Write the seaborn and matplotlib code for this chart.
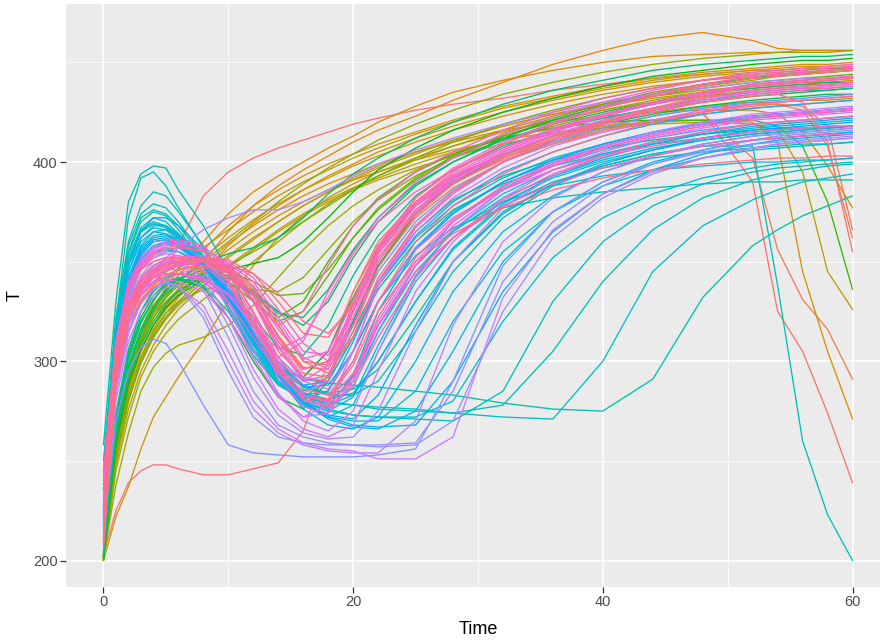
import numpy as np
import pandas as pd
import matplotlib
matplotlib.use("Agg")
import matplotlib.pyplot as plt
import seaborn as sns

# Sampling times shared by every run
TIME = [0, 1, 2, 3, 4, 5, 6, 8, 10, 12, 14, 16, 18, 20, 22, 25, 28, 32, 36, 40, 44, 48, 52, 54, 56, 58, 60]

# Temperature trajectories, one list per run, grouped by colour band
red_runs = [
    [203, 225, 239, 245, 248, 248, 246, 243, 243, 246, 249, 265, 300, 335, 358, 378, 390, 401, 409, 415, 420, 424, 427, 428, 429, 430, 431],
    [205, 285, 315, 330, 338, 346, 358, 383, 395, 402, 407, 411, 415, 419, 422, 426, 429, 432, 436, 439, 442, 444, 446, 446, 447, 447, 448],
    [210, 300, 322, 333, 340, 345, 348, 350, 345, 330, 305, 292, 305, 335, 360, 380, 393, 404, 411, 417, 421, 425, 390, 325, 305, 274, 239],
    [209, 292, 320, 333, 340, 345, 348, 350, 346, 333, 313, 297, 296, 318, 348, 372, 387, 400, 409, 416, 421, 425, 428, 429, 428, 418, 366],
    [212, 298, 324, 336, 342, 346, 349, 351, 347, 334, 312, 296, 300, 326, 354, 376, 390, 402, 410, 416, 420, 424, 402, 356, 331, 316, 291],
    [208, 290, 318, 331, 338, 343, 346, 349, 347, 337, 318, 300, 298, 320, 350, 374, 389, 402, 411, 418, 423, 427, 429, 429, 426, 408, 362],
]

gold_runs = [
    [200, 255, 285, 305, 318, 328, 336, 350, 365, 378, 388, 396, 403, 410, 416, 423, 431, 440, 449, 456, 462, 465, 461, 457, 456, 456, 456],
    [202, 256, 286, 305, 318, 328, 336, 348, 359, 368, 376, 383, 389, 394, 399, 405, 410, 416, 420, 423, 425, 426, 426, 424, 415, 398, 377],
    [201, 262, 292, 312, 326, 337, 346, 360, 374, 385, 393, 400, 407, 413, 420, 428, 435, 441, 446, 450, 453, 454, 455, 455, 456, 456, 456],
    [201, 262, 293, 312, 325, 335, 343, 356, 368, 378, 386, 393, 399, 404, 409, 415, 421, 428, 433, 438, 442, 445, 447, 448, 449, 449, 450],
    [200, 250, 280, 300, 314, 324, 332, 345, 358, 369, 378, 386, 392, 398, 403, 410, 416, 423, 429, 434, 438, 441, 443, 444, 445, 445, 446],
    [202, 258, 288, 306, 318, 327, 334, 346, 356, 365, 373, 380, 386, 391, 395, 401, 406, 411, 415, 418, 420, 421, 420, 410, 345, 305, 271],
    [201, 260, 290, 309, 322, 332, 340, 352, 362, 371, 379, 386, 393, 399, 405, 412, 418, 425, 431, 436, 440, 443, 445, 446, 447, 447, 448],
    [200, 222, 237, 256, 272, 282, 292, 310, 330, 348, 362, 373, 382, 389, 395, 402, 408, 415, 421, 426, 430, 433, 435, 436, 437, 437, 438],
    [202, 252, 281, 300, 313, 322, 330, 342, 352, 361, 370, 378, 385, 392, 398, 405, 411, 418, 424, 428, 432, 435, 437, 438, 439, 439, 440],
    [201, 265, 296, 316, 330, 340, 347, 357, 366, 375, 383, 390, 396, 402, 407, 414, 420, 427, 432, 437, 441, 444, 446, 447, 448, 448, 449],
    [200, 252, 282, 302, 316, 326, 333, 344, 353, 362, 370, 378, 385, 391, 397, 404, 411, 418, 424, 429, 433, 436, 438, 439, 440, 440, 441],
    [203, 255, 282, 300, 312, 321, 328, 338, 347, 356, 365, 373, 380, 386, 391, 397, 403, 409, 414, 417, 419, 420, 419, 416, 395, 345, 326],
    [200, 248, 276, 295, 308, 318, 326, 338, 348, 357, 366, 374, 381, 387, 392, 399, 405, 412, 417, 422, 425, 428, 430, 430, 431, 431, 432],
]

green_runs = [
    [200, 245, 272, 292, 305, 314, 321, 331, 340, 350, 360, 370, 379, 387, 393, 401, 408, 416, 423, 429, 434, 438, 441, 443, 444, 445, 446],
    [201, 238, 264, 285, 297, 304, 308, 312, 318, 328, 342, 356, 368, 378, 386, 396, 404, 413, 420, 426, 431, 435, 439, 440, 441, 442, 443],
    [202, 262, 292, 311, 324, 333, 340, 350, 360, 370, 380, 389, 397, 404, 411, 419, 426, 434, 440, 445, 449, 452, 454, 455, 455, 455, 456],
    [200, 255, 283, 302, 315, 324, 330, 336, 338, 336, 335, 342, 356, 370, 381, 393, 402, 411, 418, 424, 429, 433, 436, 437, 438, 439, 440],
    [201, 252, 280, 299, 312, 322, 329, 340, 348, 355, 362, 370, 378, 386, 393, 402, 410, 419, 426, 432, 437, 441, 444, 445, 446, 447, 447],
    [202, 264, 294, 312, 324, 332, 338, 344, 345, 340, 333, 334, 346, 362, 377, 392, 403, 414, 422, 429, 435, 439, 442, 443, 444, 445, 446],
    [201, 262, 292, 310, 322, 330, 336, 342, 340, 330, 320, 325, 343, 362, 376, 391, 402, 413, 421, 428, 433, 437, 440, 441, 442, 443, 444],
    [203, 268, 298, 316, 328, 336, 341, 346, 343, 333, 322, 330, 350, 368, 382, 395, 404, 412, 417, 420, 421, 421, 421, 418, 408, 380, 336],
    [201, 258, 288, 306, 318, 327, 333, 341, 346, 349, 352, 360, 372, 385, 396, 407, 416, 425, 432, 438, 443, 446, 449, 450, 451, 451, 452],
    [202, 270, 303, 322, 333, 339, 341, 337, 322, 300, 282, 276, 290, 320, 348, 374, 390, 403, 413, 420, 426, 430, 433, 434, 435, 436, 437],
    [203, 270, 302, 320, 331, 338, 341, 340, 330, 312, 296, 292, 305, 332, 356, 378, 392, 404, 413, 419, 424, 428, 431, 432, 433, 434, 434],
    [201, 260, 290, 308, 320, 329, 335, 342, 342, 335, 325, 318, 330, 352, 370, 388, 400, 412, 421, 428, 434, 439, 442, 444, 445, 446, 447],
    [202, 266, 296, 314, 326, 335, 341, 349, 354, 357, 362, 372, 384, 394, 402, 412, 420, 429, 436, 441, 446, 449, 451, 452, 453, 453, 454],
    [202, 265, 296, 315, 327, 334, 339, 344, 342, 334, 324, 322, 336, 356, 372, 389, 400, 411, 419, 425, 430, 434, 437, 438, 439, 440, 440],
    [204, 272, 305, 325, 336, 342, 344, 342, 332, 313, 295, 285, 292, 315, 340, 365, 381, 393, 401, 407, 411, 414, 416, 417, 417, 418, 418],
    [204, 274, 306, 325, 335, 340, 342, 338, 325, 305, 288, 282, 290, 312, 336, 360, 376, 389, 398, 404, 409, 412, 415, 416, 417, 417, 418],
    [203, 268, 300, 319, 331, 338, 342, 343, 336, 322, 307, 303, 318, 343, 363, 383, 396, 408, 416, 422, 427, 431, 434, 435, 436, 436, 437],
]

teal_runs = [
    [258, 330, 380, 394, 398, 397, 386, 368, 345, 318, 298, 288, 284, 286, 296, 322, 350, 375, 389, 398, 404, 408, 411, 412, 413, 414, 415],
    [240, 318, 355, 372, 376, 374, 368, 352, 330, 310, 297, 291, 289, 288, 287, 285, 283, 279, 276, 275, 291, 332, 358, 366, 373, 378, 383],
    [242, 320, 358, 374, 379, 377, 370, 353, 331, 308, 292, 284, 281, 284, 300, 330, 356, 378, 390, 397, 402, 405, 407, 408, 409, 409, 410],
    [250, 320, 372, 392, 395, 388, 377, 357, 332, 306, 290, 282, 279, 278, 277, 276, 274, 278, 305, 340, 366, 382, 391, 394, 396, 398, 399],
    [238, 318, 354, 370, 375, 373, 366, 350, 326, 303, 288, 281, 285, 305, 330, 353, 367, 377, 382, 385, 387, 389, 390, 390, 391, 391, 391],
    [245, 322, 360, 378, 385, 383, 375, 358, 336, 313, 296, 287, 283, 283, 290, 315, 345, 372, 388, 398, 404, 408, 408, 338, 260, 223, 200],
    [236, 314, 350, 365, 369, 367, 362, 349, 330, 309, 293, 283, 276, 273, 272, 271, 270, 285, 330, 360, 378, 389, 395, 397, 398, 399, 400],
    [235, 312, 350, 366, 370, 368, 362, 348, 327, 306, 292, 284, 280, 278, 276, 275, 274, 272, 271, 300, 345, 368, 381, 386, 390, 392, 394],
    [233, 312, 348, 362, 367, 366, 361, 350, 333, 313, 297, 288, 283, 292, 318, 348, 366, 380, 388, 393, 396, 398, 400, 400, 401, 401, 402],
    [240, 315, 352, 367, 372, 370, 364, 350, 328, 305, 289, 280, 275, 273, 272, 272, 280, 320, 352, 372, 384, 392, 397, 399, 400, 401, 402],
    [236, 316, 350, 365, 369, 368, 363, 350, 331, 309, 292, 283, 280, 290, 315, 345, 365, 382, 393, 401, 407, 411, 414, 415, 416, 417, 418],
    [232, 310, 345, 360, 365, 364, 360, 348, 330, 308, 290, 279, 272, 270, 270, 285, 320, 355, 375, 388, 396, 402, 406, 407, 408, 409, 410],
]

blue_runs = [
    [230, 310, 345, 362, 368, 368, 364, 352, 333, 310, 290, 278, 272, 278, 305, 340, 362, 380, 392, 400, 406, 411, 414, 415, 416, 417, 418],
    [227, 306, 341, 357, 363, 364, 361, 351, 335, 313, 293, 279, 275, 282, 308, 343, 366, 384, 396, 404, 410, 414, 417, 418, 419, 420, 421],
    [228, 305, 340, 356, 362, 363, 360, 350, 334, 314, 296, 283, 285, 310, 338, 362, 378, 392, 402, 409, 415, 419, 422, 423, 424, 425, 426],
    [229, 307, 342, 358, 365, 366, 363, 353, 336, 314, 293, 279, 271, 267, 266, 275, 305, 350, 375, 390, 400, 406, 411, 412, 413, 414, 415],
    [225, 300, 336, 352, 358, 360, 358, 349, 333, 312, 292, 276, 268, 266, 272, 300, 335, 365, 383, 395, 403, 409, 413, 414, 415, 416, 417],
    [223, 300, 335, 351, 357, 359, 357, 349, 334, 314, 296, 283, 278, 283, 300, 330, 357, 379, 393, 402, 409, 414, 418, 419, 420, 421, 422],
    [235, 312, 348, 365, 372, 372, 368, 356, 338, 316, 295, 280, 272, 268, 267, 268, 290, 335, 365, 384, 396, 404, 409, 411, 412, 413, 414],
    [222, 298, 333, 349, 355, 357, 355, 348, 335, 318, 300, 287, 288, 305, 330, 357, 375, 390, 400, 408, 414, 419, 423, 424, 425, 426, 427],
    [226, 304, 339, 355, 361, 362, 359, 349, 332, 311, 292, 279, 273, 271, 283, 318, 350, 374, 389, 399, 406, 412, 416, 417, 418, 419, 420],
    [226, 303, 338, 354, 360, 361, 358, 350, 334, 313, 294, 281, 277, 293, 325, 356, 374, 390, 401, 409, 415, 420, 423, 424, 425, 426, 427],
    [221, 298, 332, 348, 354, 356, 355, 349, 336, 318, 300, 288, 290, 312, 338, 363, 380, 395, 405, 413, 419, 424, 427, 428, 429, 430, 431],
    [224, 302, 337, 353, 360, 361, 359, 351, 336, 315, 294, 280, 276, 287, 315, 348, 370, 387, 398, 406, 412, 416, 419, 420, 421, 422, 423],
    [220, 296, 330, 346, 352, 355, 355, 350, 338, 320, 302, 290, 293, 318, 345, 370, 386, 400, 410, 417, 423, 427, 430, 431, 432, 433, 434],
]

purple_runs = [
    [215, 270, 295, 307, 311, 309, 300, 278, 258, 254, 253, 252, 252, 252, 253, 256, 290, 348, 375, 390, 399, 405, 409, 410, 411, 412, 413],
    [218, 285, 315, 330, 337, 340, 338, 322, 295, 272, 262, 259, 258, 258, 258, 259, 285, 340, 370, 388, 399, 406, 411, 413, 414, 415, 416],
    [219, 288, 320, 335, 342, 346, 346, 336, 312, 285, 268, 262, 259, 258, 257, 258, 270, 325, 362, 382, 394, 402, 407, 409, 410, 411, 412],
    [220, 292, 325, 340, 347, 350, 349, 340, 318, 292, 273, 264, 261, 262, 275, 315, 350, 377, 393, 403, 410, 415, 419, 420, 421, 422, 423],
    [215, 285, 318, 335, 345, 352, 357, 366, 372, 376, 376, 380, 386, 393, 399, 406, 412, 419, 425, 430, 434, 437, 440, 441, 442, 442, 443],
    [218, 284, 314, 329, 336, 339, 338, 325, 300, 276, 264, 258, 255, 254, 254, 270, 318, 360, 382, 395, 403, 409, 413, 414, 415, 416, 417],
    [222, 295, 328, 343, 350, 352, 352, 346, 330, 306, 284, 270, 265, 275, 305, 342, 366, 386, 399, 408, 415, 420, 424, 425, 426, 427, 428],
    [217, 280, 310, 325, 333, 337, 337, 328, 305, 280, 266, 259, 256, 255, 251, 251, 262, 332, 366, 384, 395, 402, 407, 409, 410, 411, 412],
    [221, 293, 326, 341, 348, 351, 350, 342, 322, 296, 276, 266, 262, 268, 295, 335, 360, 382, 396, 405, 412, 417, 421, 422, 423, 424, 425],
    [225, 300, 333, 346, 352, 354, 353, 345, 327, 302, 282, 272, 278, 305, 338, 365, 382, 397, 408, 415, 421, 426, 429, 430, 431, 432, 433],
]

pink_runs = [
    [225, 298, 330, 342, 348, 351, 352, 350, 340, 320, 298, 284, 290, 322, 352, 375, 390, 404, 414, 421, 427, 432, 435, 436, 437, 438, 439],
    [226, 296, 326, 336, 340, 341, 340, 335, 322, 302, 283, 272, 274, 292, 320, 350, 370, 388, 400, 408, 414, 419, 423, 424, 425, 426, 427],
    [230, 305, 337, 349, 355, 358, 359, 357, 349, 330, 307, 290, 286, 305, 338, 367, 384, 400, 411, 419, 426, 431, 435, 436, 437, 438, 439],
    [220, 290, 322, 334, 340, 343, 344, 342, 334, 318, 300, 290, 298, 325, 356, 382, 397, 410, 420, 428, 434, 439, 443, 444, 445, 446, 447],
    [222, 292, 325, 338, 345, 349, 351, 351, 346, 334, 316, 301, 305, 330, 357, 380, 394, 407, 417, 424, 430, 435, 439, 440, 441, 442, 443],
    [235, 308, 338, 350, 356, 359, 360, 356, 341, 316, 292, 277, 274, 290, 318, 348, 368, 386, 398, 407, 413, 418, 422, 423, 424, 425, 426],
    [215, 300, 328, 340, 346, 350, 352, 353, 348, 333, 310, 292, 290, 330, 358, 378, 391, 404, 413, 421, 427, 432, 436, 437, 438, 439, 440],
    [228, 300, 328, 338, 342, 344, 344, 341, 333, 318, 306, 312, 332, 354, 372, 390, 402, 414, 423, 430, 436, 441, 445, 446, 447, 448, 449],
    [210, 295, 325, 337, 343, 347, 349, 351, 349, 340, 322, 305, 303, 325, 354, 378, 392, 405, 415, 423, 429, 434, 438, 439, 440, 441, 442],
    [240, 310, 340, 352, 357, 360, 361, 358, 346, 324, 299, 283, 281, 300, 330, 356, 372, 386, 396, 403, 408, 412, 415, 416, 417, 418, 418],
    [212, 294, 324, 336, 342, 346, 348, 350, 348, 338, 320, 302, 296, 318, 350, 376, 391, 405, 415, 423, 429, 434, 438, 439, 440, 441, 442],
    [218, 298, 328, 340, 346, 349, 350, 348, 338, 318, 302, 310, 335, 355, 370, 385, 396, 407, 416, 423, 429, 434, 438, 439, 440, 441, 442],
    [238, 302, 328, 338, 342, 344, 344, 340, 330, 312, 294, 282, 280, 294, 318, 345, 362, 378, 389, 397, 403, 408, 411, 412, 413, 414, 414],
    [208, 290, 322, 335, 342, 346, 349, 352, 350, 342, 326, 309, 300, 312, 340, 368, 385, 400, 411, 419, 425, 430, 434, 435, 436, 437, 438],
    [216, 298, 328, 340, 346, 349, 351, 351, 345, 330, 310, 296, 300, 328, 356, 379, 393, 406, 416, 424, 430, 435, 439, 440, 441, 442, 443],
    [212, 296, 327, 339, 345, 348, 350, 350, 344, 330, 318, 325, 348, 368, 381, 395, 405, 416, 425, 432, 437, 441, 444, 445, 446, 447, 448],
    [224, 304, 335, 347, 353, 356, 357, 355, 344, 322, 297, 281, 277, 288, 312, 342, 362, 381, 394, 403, 410, 415, 419, 420, 421, 422, 423],
    [245, 310, 336, 346, 350, 352, 353, 351, 341, 320, 296, 281, 278, 292, 322, 352, 371, 388, 399, 407, 413, 418, 422, 423, 424, 425, 426],
    [209, 288, 318, 330, 337, 341, 344, 347, 348, 344, 334, 320, 314, 328, 355, 380, 395, 409, 419, 427, 434, 439, 443, 444, 445, 446, 447],
    [214, 297, 326, 338, 344, 348, 350, 351, 346, 331, 308, 291, 290, 325, 352, 374, 389, 402, 412, 420, 427, 432, 436, 437, 438, 439, 440],
    [232, 306, 336, 348, 354, 357, 358, 355, 345, 325, 302, 286, 283, 300, 330, 360, 378, 394, 405, 413, 420, 425, 429, 430, 431, 432, 433],
    [220, 300, 330, 342, 348, 351, 352, 350, 340, 318, 295, 282, 281, 298, 325, 350, 364, 377, 386, 392, 396, 399, 401, 402, 402, 403, 403],
    [214, 294, 322, 333, 339, 343, 346, 348, 346, 336, 318, 300, 294, 312, 342, 368, 385, 400, 411, 420, 427, 433, 438, 439, 440, 441, 442],
    [206, 292, 324, 337, 344, 348, 350, 352, 351, 344, 330, 314, 312, 330, 358, 382, 396, 409, 419, 427, 433, 438, 442, 443, 444, 445, 446],
    [210, 294, 325, 338, 344, 348, 350, 351, 347, 334, 312, 294, 292, 315, 347, 373, 389, 403, 413, 420, 426, 430, 433, 434, 430, 410, 355],
]

# Hue span (degrees) of each colour band, in drawing order
bands = [
    (red_runs, 8, 26),
    (gold_runs, 38, 78),
    (green_runs, 86, 170),
    (teal_runs, 178, 205),
    (blue_runs, 210, 255),
    (purple_runs, 262, 292),
    (pink_runs, 298, 372),
]


def hcl_hex(h, c=100.0, l=65.0):
    """Polar CIE-Luv colour (ggplot's default hue scale) to sRGB hex."""
    hr = np.deg2rad(h)
    u, v = c * np.cos(hr), c * np.sin(hr)
    un, vn = 0.19784, 0.46834
    y = ((l + 16) / 116) ** 3 if l > 8 else l / 903.3
    up = u / (13 * l) + un
    vp = v / (13 * l) + vn
    x = y * 9 * up / (4 * vp)
    z = y * (12 - 3 * up - 20 * vp) / (4 * vp)
    m = np.array([[3.2406, -1.5372, -0.4986],
                  [-0.9689, 1.8758, 0.0415],
                  [0.0557, -0.2040, 1.0570]])
    lin = m @ np.array([x, y, z])
    rgb = np.where(lin <= 0.0031308, 12.92 * lin,
                   1.055 * np.clip(lin, 0, None) ** (1 / 2.4) - 0.055)
    rgb = np.clip(rgb, 0, 1)
    return "#{:02x}{:02x}{:02x}".format(*(int(round(ch * 255)) for ch in rgb))


runs, palette = [], []
for group, h_lo, h_hi in bands:
    runs.extend(group)
    palette.extend(hcl_hex(h) for h in np.linspace(h_lo, h_hi, len(group)))

for r in runs:
    assert len(r) == len(TIME), len(r)
n_runs = len(runs)
run_ids = [f"run{i + 1:03d}" for i in range(n_runs)]

df = pd.DataFrame({
    "Time": np.tile(TIME, n_runs),
    "T": np.concatenate(runs),
    "run": np.repeat(run_ids, len(TIME)),
})

sns.set_theme(style="darkgrid")
plt.rcParams["font.family"] = ["Liberation Sans", "DejaVu Sans"]

W, H = 880, 640
fig = plt.figure(figsize=(W / 100, H / 100), dpi=100)
ax = fig.add_axes([66 / W, (H - 587) / H, 824 / W, 583 / H])
ax.set_facecolor("#EBEBEB")

sns.lineplot(data=df, x="Time", y="T", hue="run", hue_order=run_ids,
             palette=palette, estimator=None, legend=False,
             linewidth=0.95, ax=ax)

ax.set_xlim(-3, 63)
ax.set_ylim(186.7, 479.3)
ax.set_xticks([0, 20, 40, 60])
ax.set_yticks([200, 300, 400])
ax.set_xticks([10, 30, 50], minor=True)
ax.set_yticks([250, 350, 450], minor=True)
ax.grid(which="major", color="white", linewidth=1.1)
ax.grid(which="minor", color="white", linewidth=0.55)
ax.set_axisbelow(True)
for s in ax.spines.values():
    s.set_visible(False)
ax.tick_params(which="minor", length=0)
ax.tick_params(which="major", length=4, width=0.9, color="#333333",
               labelcolor="#4D4D4D", labelsize=10.5, pad=2,
               bottom=True, left=True)

ax.set_xlabel("Time", fontsize=13, color="black")
ax.set_ylabel("T", fontsize=13, color="black")
ax.xaxis.set_label_coords(0.5, -0.058)
ax.yaxis.set_label_coords(-0.052, 0.5)

fig.savefig("out.png", dpi=100)
